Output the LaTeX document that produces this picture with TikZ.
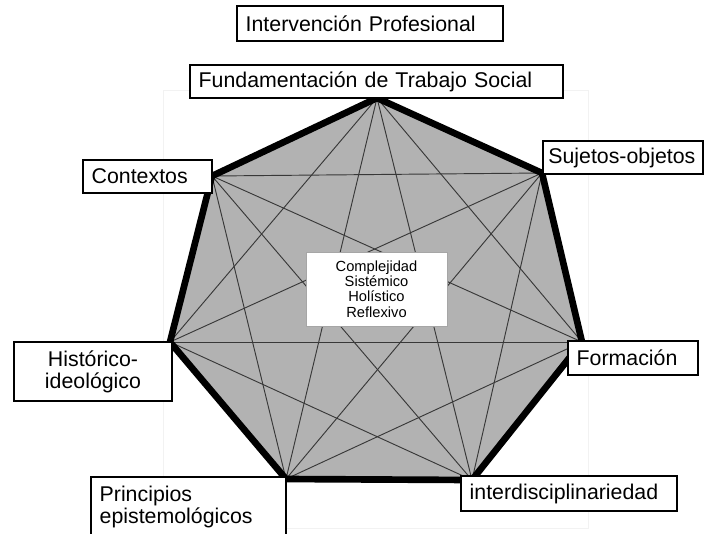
\documentclass[tikz,border=0pt]{standalone}
\usepackage{fontspec}
\setmainfont{Liberation Sans}
\definecolor{relleno}{gray}{0.70}
\definecolor{diagonal}{gray}{0.22}
\tikzstyle{caja}=[draw, line width=1.4pt, fill=white, align=left, inner xsep=6.5pt, inner ysep=0pt, font=\fontsize{16}{16.5}\selectfont]
\tikzstyle{centro}=[draw=black!35, fill=white, align=center, minimum width=105.75pt, minimum height=55.5pt, inner sep=0pt, font=\fontsize{11}{11.5}\selectfont]
\newcommand{\caja}{\node[caja]}

\begin{document}
\begin{tikzpicture}[x=0.75pt, y=-0.75pt
  ,every edge/.style={draw, diagonal, line width=0.7pt}
]
\useasboundingbox (0,0) rectangle (709,533);
\draw[black!5] (163,90) rectangle (588,528);
% vertices del heptagono
\coordinate (v1) at (377,98);
\coordinate (v2) at (542,173);
\coordinate (v3) at (582,342);
\coordinate (v4) at (472,480);
\coordinate (v5) at (286,479);
\coordinate (v6) at (170,342);
\coordinate (v7) at (212,176);
\fill[relleno] (v1) -- (v2) -- (v3) -- (v4) -- (v5) -- (v6) -- (v7) -- cycle;
\path
(v1) edge (v3) edge (v4) edge (v5) edge (v6)
(v2) edge (v4) edge (v5) edge (v6) edge (v7)
(v3) edge (v5) edge (v6) edge (v7)
(v4) edge (v6) edge (v7)
(v5) edge (v7)
;
\draw[line width=5pt] (v1) -- (v2) -- (v3) -- (v4) -- (v5) -- (v6) -- (v7) -- cycle;
\node[centro] (ejes) at (376.5,289) {Complejidad\\Sistémico\\Holístico\\Reflexivo};
% rotulos
\caja[text width=186.5pt, minimum height=26.25pt] (intervencion) at (370,23.5) {Intervención Profesional};
\caja[text width=266.75pt, minimum height=24.75pt] (fundamentacion) at (376.5,81.5) {Fundamentación de Trabajo Social};
\caja[text width=83.75pt, minimum height=24.75pt] (contextos) at (147.5,176.5) {Contextos};
\caja[text width=112pt, inner xsep=4pt, minimum height=24.75pt] (sujetos) at (623,157.5) {Sujetos-objetos};
\caja[text width=105.5pt, align=center, minimum height=44.25pt] (historico) at (93,371.5) {Histórico-\\ideológico};
\caja[text width=84.5pt, minimum height=25.5pt] (formacion) at (633,358) {Formación};
\caja[text width=133.25pt, minimum height=44.25pt] (principios) at (188.5,506.5) {Principios\\epistemológicos};
\caja[text width=149pt, minimum height=26.25pt] (interdisciplina) at (569,493.5) {interdisciplinariedad};
\end{tikzpicture}
\end{document}
